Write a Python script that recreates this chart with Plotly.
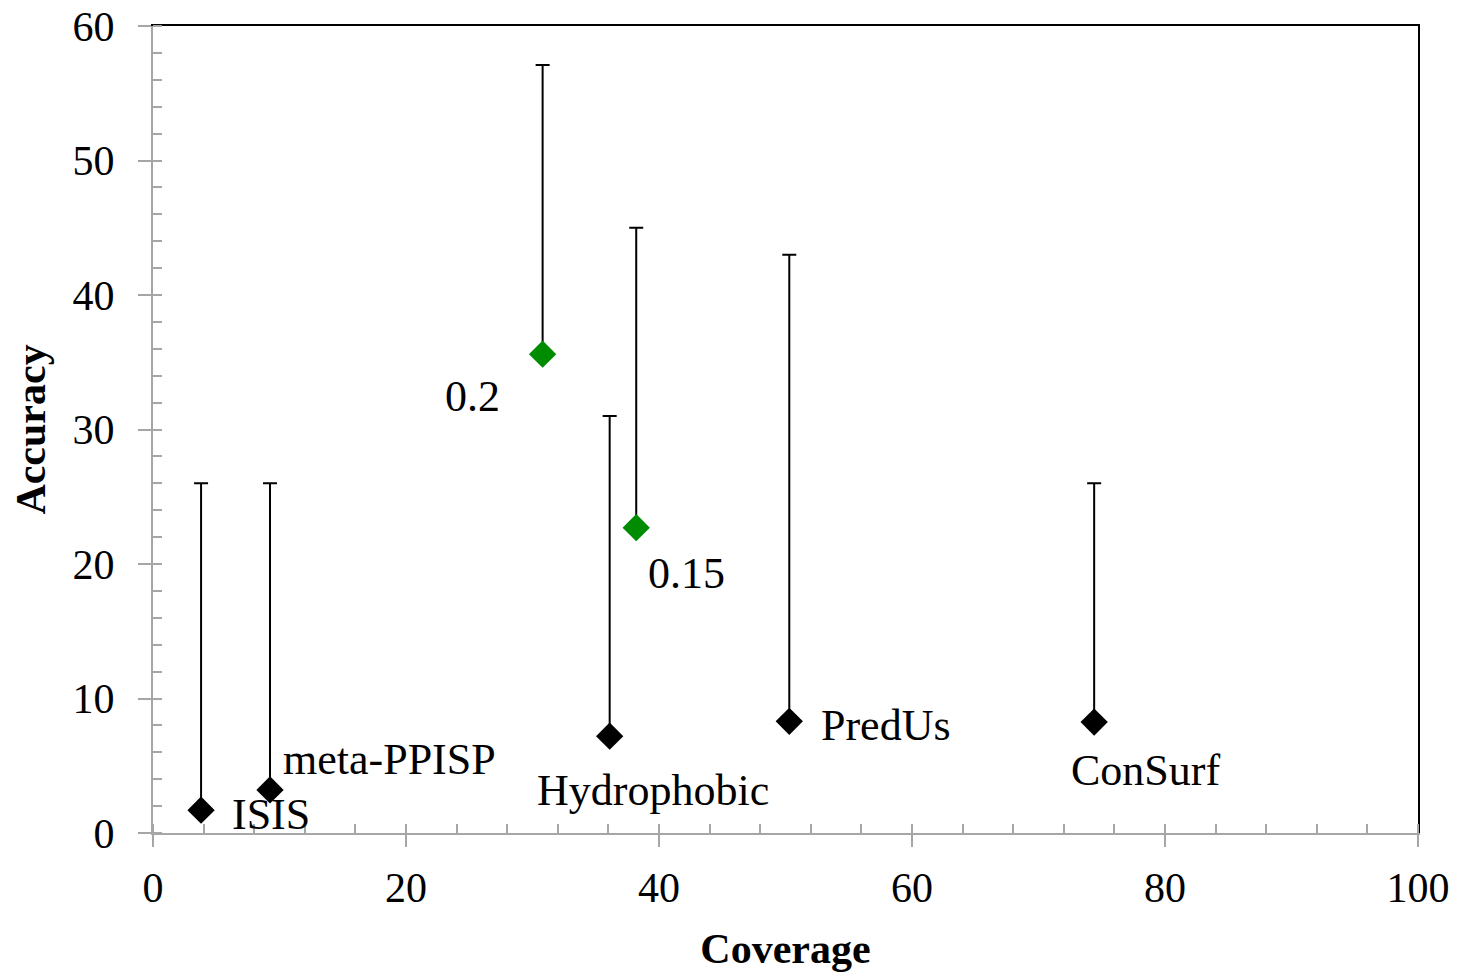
import plotly.graph_objects as go

# Black series (methods)
black_names = ["ISIS", "meta-PPISP", "Hydrophobic", "PredUs", "ConSurf"]
black_cov = [3.8, 9.25, 36.1, 50.3, 74.4]
black_acc = [1.7, 3.2, 7.2, 8.3, 8.25]
black_top = [26.0, 26.0, 31.0, 43.0, 26.0]

# Green series (thresholds)
green_names = ["0.2", "0.15"]
green_cov = [30.8, 38.2]
green_acc = [35.6, 22.7]
green_top = [57.1, 45.0]

x_ticks = [0, 20, 40, 60, 80, 100]
y_ticks = [0, 10, 20, 30, 40, 50, 60]

FONT = "Liberation Serif"
GREY = "#a6a6a6"

fig = go.Figure()

def err(top, val):
    return dict(type="data", symmetric=False,
                array=[t - v for t, v in zip(top, val)],
                arrayminus=[0] * len(val),
                color="black", thickness=2, width=7)

fig.add_trace(go.Scatter(x=black_cov, y=black_acc, mode="markers",
                         marker=dict(symbol="diamond", size=21, color="black"),
                         error_y=err(black_top, black_acc), showlegend=False))
fig.add_trace(go.Scatter(x=green_cov, y=green_acc, mode="markers",
                         marker=dict(symbol="diamond", size=21, color="#008c00"),
                         error_y=err(green_top, green_acc), showlegend=False))

# label offsets (pixels) relative to each point
label_offsets = {
    "ISIS": ("left", 29, -4),
    "meta-PPISP": ("left", 11, 30),
    "Hydrophobic": ("center", 43, -54),
    "PredUs": ("left", 30, -4),
    "ConSurf": ("center", 51, -48),
    "0.2": ("right", -41, -42),
    "0.15": ("left", 10, -46),
}
annotations = []
for names, xs, ys in [(black_names, black_cov, black_acc), (green_names, green_cov, green_acc)]:
    for n, xv, yv in zip(names, xs, ys):
        xa, dx, dy = label_offsets[n]
        annotations.append(dict(x=xv, y=yv, xref="x", yref="y", text=n, showarrow=False,
                                xanchor=xa, yanchor="middle", xshift=dx, yshift=dy,
                                font=dict(family=FONT, size=44, color="black")))

fig.update_layout(
    width=1449, height=969,
    margin=dict(l=145, r=39, t=18, b=144),
    paper_bgcolor="white", plot_bgcolor="white",
    font=dict(family=FONT, size=42, color="black"),
    annotations=annotations,
    xaxis=dict(range=[0, 100], tickvals=x_ticks, showgrid=False, zeroline=False, automargin=False,
               showline=True, linecolor=GREY, linewidth=2, ticklabeloverflow="allow",
               ticks="outside", ticklen=12, tickwidth=2, tickcolor=GREY,
               minor=dict(dtick=4, ticks="inside", ticklen=9, tickwidth=2, tickcolor=GREY, showgrid=False),
               tickfont=dict(family=FONT, size=42, color="black"),
               ticklabelstandoff=5,
               title=dict(text="<b>Coverage</b>", font=dict(family=FONT, size=42), standoff=23)),
    yaxis=dict(range=[0, 60], tickvals=y_ticks, showgrid=False, zeroline=False, automargin=False,
               showline=True, linecolor=GREY, linewidth=2, ticklabeloverflow="allow",
               ticks="outside", ticklen=13, tickwidth=2, tickcolor=GREY,
               minor=dict(dtick=2, ticks="inside", ticklen=9, tickwidth=2, tickcolor=GREY, showgrid=False),
               tickfont=dict(family=FONT, size=42, color="black"),
               ticklabelstandoff=15,
               title=dict(text="<b>Accuracy</b>", font=dict(family=FONT, size=42), standoff=16)),
    xaxis2=dict(overlaying="x", side="top", range=[0, 100], showgrid=False, zeroline=False, automargin=False,
                showline=True, linecolor="black", linewidth=2, ticks="", showticklabels=False),
    yaxis2=dict(overlaying="y", side="right", range=[0, 60], showgrid=False, zeroline=False, automargin=False,
                showline=True, linecolor="black", linewidth=2, ticks="", showticklabels=False),
    xaxis3=dict(overlaying="x", side="bottom", range=[0, 100], tickvals=x_ticks, showgrid=False,
                zeroline=False, showline=False, ticks="inside", ticklen=9, tickwidth=2, automargin=False,
                tickcolor=GREY, showticklabels=False),
    yaxis3=dict(overlaying="y", side="left", range=[0, 60], tickvals=y_ticks, showgrid=False,
                zeroline=False, showline=False, ticks="inside", ticklen=9, tickwidth=2, automargin=False,
                tickcolor=GREY, showticklabels=False),
)

# invisible traces to activate the overlay axes
fig.add_trace(go.Scatter(x=[None], y=[None], xaxis="x2", yaxis="y2", showlegend=False, hoverinfo="skip"))
fig.add_trace(go.Scatter(x=[None], y=[None], xaxis="x3", yaxis="y3", showlegend=False, hoverinfo="skip"))

fig.write_html("out.html")
